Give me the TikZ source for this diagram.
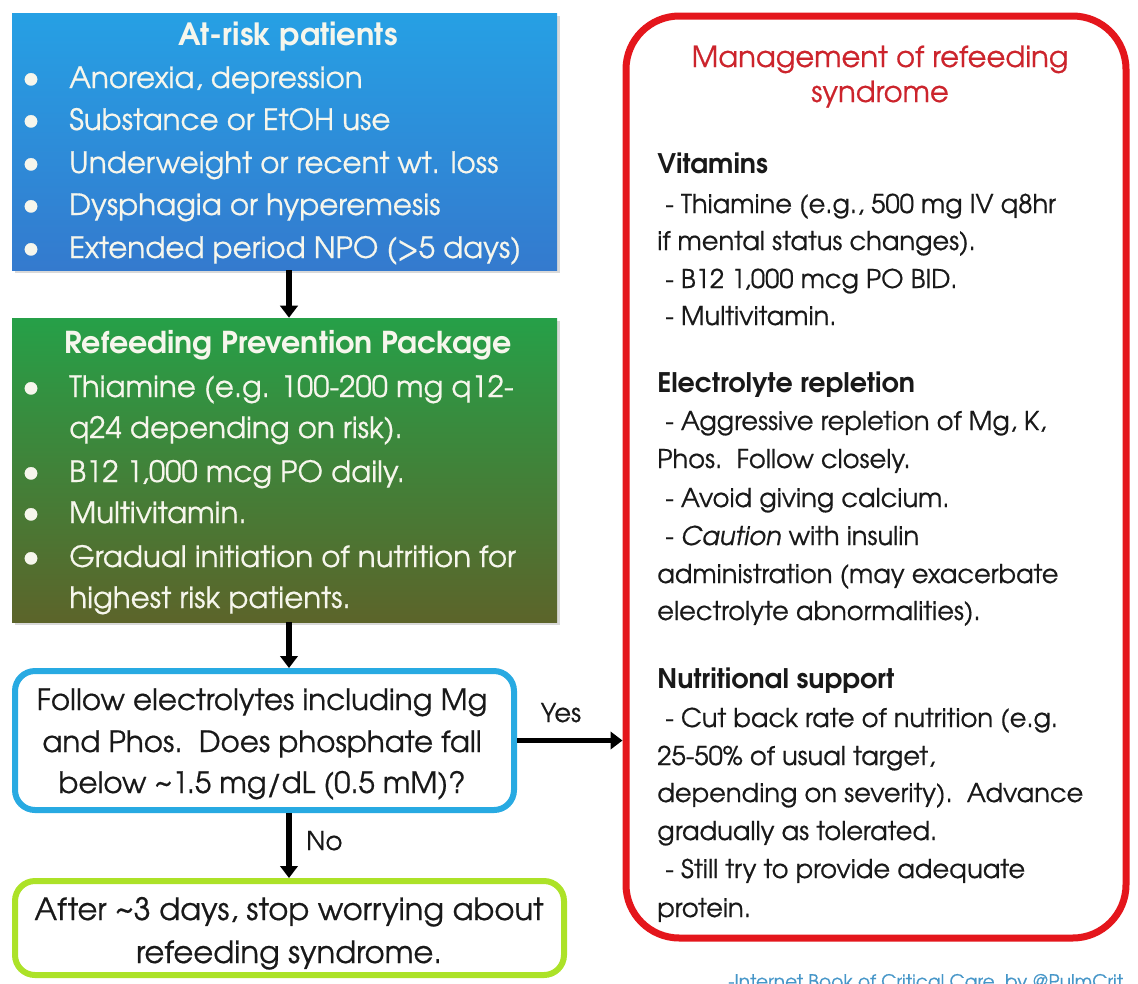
\documentclass[tikz,border=0pt]{standalone}
\usepackage{fontspec}
\setmainfont{TeX Gyre Adventor}[UprightFeatures={FakeBold=0.6}, ItalicFeatures={FakeBold=0.6}]
\usetikzlibrary{arrows.meta,shadows,fit,calc}
\definecolor{blueTop}{RGB}{38,160,228}
\definecolor{blueBot}{RGB}{52,122,206}
\definecolor{greenTop}{RGB}{38,160,72}
\definecolor{greenMid}{RGB}{48,138,58}
\definecolor{greenBot}{RGB}{92,100,42}
\definecolor{qBlue}{RGB}{40,170,226}
\definecolor{lime}{RGB}{172,226,40}
\definecolor{redBorder}{RGB}{228,22,28}
\definecolor{redTitle}{RGB}{204,36,44}
\definecolor{paleText}{RGB}{246,246,236}
\definecolor{creditBlue}{RGB}{70,150,200}
\tikzset{
  filledbox/.style={inner sep=0pt, drop shadow={opacity=0.3, shadow xshift=2pt, shadow yshift=-2pt}},
  outlinebox/.style={inner sep=0pt, draw, fill=white, line width=4.5pt, rounded corners=15pt},
  body/.style={font=\fontsize{22}{24}\selectfont, inner sep=0pt},
  pale/.style={body, text=paleText},
  dark/.style={body, text=black!90},
  rbody/.style={dark, font=\fontsize{19.3}{22}\selectfont},
  rhead/.style={dark, font=\fontsize{20.2}{22}\selectfont\bfseries},
  arr/.style={line width=3.8pt, -{Triangle[width=13pt,length=9pt]}},
}
\begin{document}
\begin{tikzpicture}[x=0.75pt,y=-0.75pt]
\useasboundingbox (0,0) rectangle (1138,983);
\clip (0,0) rectangle (1138,983);

% ---- boxes
\node[filledbox, top color=blueTop, bottom color=blueBot, fit={(12,13) (557,270)}] (risk) {};
\node[filledbox, top color=greenTop, middle color=greenMid, bottom color=greenBot, fit={(12,318) (557,622)}] (pkg) {};
\node[outlinebox, draw=qBlue, fit={(15,671) (514,810)}] (q) {};
\node[outlinebox, draw=lime, fit={(15,881) (564,975)}] (done) {};
\node[outlinebox, draw=redBorder, line width=5.25pt, rounded corners=40pt, fit={(626,16) (1126,938)}] (mgmt) {};

% ---- at-risk text
\node[pale, anchor=base, font=\fontsize{23}{24}\selectfont\bfseries] (riskT) at (288,45) {At-risk patients};
\foreach \y/\t [count=\i] in {88/{Anorexia, depression}, 130/{Substance or EtOH use}, 173/{Underweight or recent wt. loss}, 215/{Dysphagia or hyperemesis}, 258/{Extended period NPO (>5 days)}} {
  \node[pale, anchor=base, font=\fontsize{26}{24}\selectfont] (rb\i) at (31,\y) {\textbullet};
  \node[pale, anchor=base west] (rl\i) at (69,\y) {\t};
}

% ---- package text
\node[pale, anchor=base, font=\fontsize{22.6}{24}\selectfont\bfseries] (pkgT) at (288,353) {Refeeding Prevention Package};
\foreach \y [count=\i] in {397,482,523,567} {
  \node[pale, anchor=base, font=\fontsize{26}{24}\selectfont] (pb\i) at (31,\y) {\textbullet};
}
\node[pale, anchor=base west] (p1) at (69,397) {Thiamine (e.g. 100-200 mg q12-};
\node[pale, anchor=base west] (p2) at (69,438) {q24 depending on risk).};
\node[pale, anchor=base west] (p3) at (69,482) {B12 1,000 mcg PO daily.};
\node[pale, anchor=base west] (p4) at (69,523) {Multivitamin.};
\node[pale, anchor=base west] (p5) at (69,567) {Gradual initiation of nutrition for};
\node[pale, anchor=base west] (p6) at (69,608) {highest risk patients.};

% ---- question text
\node[dark, anchor=base] (q1) at (262,710) {Follow electrolytes including Mg};
\node[dark, anchor=base] (q2) at (262,752) {and Phos.~~Does phosphate fall};
\node[dark, anchor=base] (q3) at (262,793) {below \textasciitilde1.5 mg/dL (0.5 mM)?};

% ---- done text
\node[dark, anchor=base, font=\fontsize{23}{24}\selectfont] (d1) at (289,920) {After \textasciitilde3 days, stop worrying about};
\node[dark, anchor=base, font=\fontsize{23}{24}\selectfont] (d2) at (289,963) {refeeding syndrome.};

% ---- arrows
\coordinate (a1) at ($(risk.south)+(4.5,0)$);
\coordinate (a2) at ($(pkg.south)+(4.5,0)$);
\coordinate (a3) at ($(q.south)+(24.5,0)$);
\draw[arr] (a1) -- (a1 |- pkg.north);
\draw[arr] (a2) -- (a2 |- q.north);
\draw[arr] (q.east) -- (q.east -| mgmt.west);
\draw[arr] (a3) -- (a3 |- done.north);
\node[rbody, anchor=base] (yes) at (561,722) {Yes};
\node[rbody, anchor=base west] (no) at (306,850) {No};

% ---- management text
\node[body, text=redTitle, anchor=base, font=\fontsize{21.8}{24}\selectfont] (m1) at (880,67) {Management of refeeding};
\node[body, text=redTitle, anchor=base, font=\fontsize{21.8}{24}\selectfont] (m2) at (880,102) {syndrome};
\node[rhead, anchor=base west] (h1) at (657,173) {Vitamins};
\node[rbody, anchor=base west] (v1) at (665,213) {- Thiamine (e.g., 500 mg IV q8hr};
\node[rbody, anchor=base west] (v2) at (657,250) {if mental status changes).};
\node[rbody, anchor=base west] (v3) at (665,288) {- B12 1,000 mcg PO BID.};
\node[rbody, anchor=base west] (v4) at (665,325) {- Multivitamin.};
\node[rhead, anchor=base west] (h2) at (657,392) {Electrolyte repletion};
\node[rbody, anchor=base west] (e1) at (665,430) {- Aggressive repletion of Mg, K,};
\node[rbody, anchor=base west] (e2) at (657,468) {Phos.~~Follow closely.};
\node[rbody, anchor=base west] (e3) at (665,507) {- Avoid giving calcium.};
\node[rbody, anchor=base west] (e4) at (665,545) {- \textit{Caution} with insulin};
\node[rbody, anchor=base west] (e5) at (657,583) {administration (may exacerbate};
\node[rbody, anchor=base west] (e6) at (657,620) {electrolyte abnormalities).};
\node[rhead, anchor=base west] (h3) at (657,688) {Nutritional support};
\node[rbody, anchor=base west] (n1) at (665,727) {- Cut back rate of nutrition (e.g.};
\node[rbody, anchor=base west] (n2) at (657,765) {25-50\% of usual target,};
\node[rbody, anchor=base west] (n3) at (657,802) {depending on severity).~~Advance};
\node[rbody, anchor=base west] (n4) at (657,840) {gradually as tolerated.};
\node[rbody, anchor=base west] (n5) at (665,878) {- Still try to provide adequate};
\node[rbody, anchor=base west] (n6) at (657,917) {protein.};

% ---- credit
\node[inner sep=0pt, anchor=base west, text=creditBlue, font=\fontsize{14}{16}\selectfont] (credit) at (728,988) {-Internet Book of Critical Care, by @PulmCrit};
\end{tikzpicture}
\end{document}
